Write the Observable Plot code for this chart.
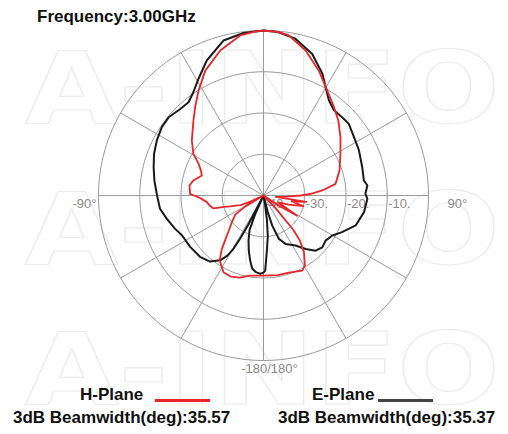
<!DOCTYPE html>
<html><head><meta charset="utf-8">
<script src="https://cdn.jsdelivr.net/npm/d3@7"></script>
<script src="https://cdn.jsdelivr.net/npm/@observablehq/plot@0.6"></script>
<style>
body{margin:0;background:#fff;width:508px;height:434px;position:relative;overflow:hidden;font-family:"Liberation Sans",Arial,sans-serif;}
.t{position:absolute;font-weight:bold;font-size:17px;line-height:17px;color:#111;white-space:nowrap;}
#wm{position:absolute;left:0;top:0;}
#chart{position:absolute;left:0;top:28px;}
.sw{position:absolute;height:3px;}
</style></head><body>
<svg id="wm" width="508" height="434">
  <g fill="none" stroke="#ececec" stroke-width="1.2" font-family="DejaVu Sans" font-weight="bold" font-size="100">
    <text x="25" y="123" textLength="475" lengthAdjust="spacingAndGlyphs">A-INFO</text>
    <text x="25" y="264" textLength="475" lengthAdjust="spacingAndGlyphs">A-INFO</text>
    <text x="25" y="404" textLength="475" lengthAdjust="spacingAndGlyphs">A-INFO</text>
  </g>
</svg>
<div class="t" style="left:37px;top:8px">Frequency:3.00GHz</div>
<div id="chart"></div>
<div class="t" style="left:80px;top:386px">H-Plane</div>
<div class="sw" style="left:155px;top:399px;width:55px;background:#e8262b"></div>
<div class="t" style="left:312px;top:386px">E-Plane</div>
<div class="sw" style="left:378px;top:399px;width:55px;background:#444"></div>
<div class="t" style="left:13px;top:409px">3dB Beamwidth(deg):35.57</div>
<div class="t" style="left:278px;top:409px">3dB Beamwidth(deg):35.37</div>
<script>
// H-Plane (red): angle in degrees (0 = top, clockwise), level in dB
const hAngles = [-180,-170,-164,-158,-152.5,-146,-142,-136,-130,-124,-121,-118,-115,-113,-110,-108,-106,-104.5,-100,-96.7,-92,-88.7,-82.3,-77.9,-72,-68,-64,-59.2,-52.5,-43,-37.7,-31.8,-25,-16.6,-8.3,-3,0,5,9,16.2,23.9,31.2,38.6,44.9,52.9,61.6,71.8,80.8,85.1,88,90,93,96,98.5,102,105,110,115,121,125,130,136,139,141,144.5,149.4,152.7,161.8,170,180];
const hDb = [-20.6,-20.3,-19.3,-18.8,-19,-21,-23.6,-27.7,-30,-31.8,-35,-40,-36.5,-34,-32.8,-31.5,-30,-27.5,-26.6,-26.2,-24.5,-22.2,-21.9,-22.6,-24.3,-23.6,-22.5,-20.2,-18.1,-15.1,-12.9,-10.1,-6.6,-3.3,-0.8,-0.2,0,-0.2,-0.7,-3.4,-6.9,-10.2,-12.6,-14.3,-16.6,-18.8,-20.6,-22.3,-25.7,-28.5,-31,-34.5,-37,-29.5,-33,-30,-33.5,-36,-30.5,-37,-40,-36,-29,-26,-23.1,-20.3,-19.5,-20.3,-20.4,-20.6];
// E-Plane (black)
const eAngles = [-180,-177.6,-174,-171.2,-168.4,-165,-161.6,-158,-156,-154,-152.5,-151.5,-150.5,-149,-146.3,-141,-134,-125,-116,-110.7,-103.6,-97.3,-90,-82.2,-75.6,-69.1,-62.7,-56.1,-50.5,-43.9,-38.8,-34.1,-29.1,-22.8,-14.5,-7,0,5,11.5,19,25.8,29.8,34.5,39.6,45.1,50,57.2,64.7,74,81.5,84.5,89,91.8,99.4,108,115,120.2,126,131.4,136.6,141.8,147.4,155.5,160.4,163.8,165.5,167.5,170,172,174,176.5,178.7,180];
const eDb = [-21.3,-21,-21.4,-22.1,-23.9,-26.2,-28.5,-31,-35,-40,-32,-28,-25,-23,-21.1,-19.4,-18.6,-18.3,-18,-17.1,-15.9,-14.7,-14.2,-13.3,-12.5,-11.6,-10.9,-10.3,-10.2,-10.9,-11,-9.7,-7.6,-4.5,-1.2,-0.3,0,-0.2,-1.2,-3.7,-7.2,-9.7,-12,-13.2,-13.1,-13,-13.9,-14.4,-15.1,-15.4,-14.7,-15.3,-14.8,-15.3,-16.5,-19,-20.7,-21.4,-21,-21.6,-23.5,-25.6,-27.1,-28.8,-32.4,-36,-40,-38,-34,-30,-26.6,-21.8,-21.3];
// grid
const ringDb = [-30,-20,-10,0];
const spokeAngles = [0,30,60,90,120,150,180,210,240,270,300,330];
const ringLabelDb = [-40,-30,-20,-10];
const ringLabels = ["-40.","-30.","-20.","-10."];
const angleLabels = ["-90°","90°","-180/180°"];
const angleLabelDeg = [-90,90,180];

const floorDb = -40;
const rad = d => d * Math.PI / 180;
const toXY = (a, db) => { const r = Math.max(0, db - floorDb); return {x: r * Math.sin(rad(a)), y: r * Math.cos(rad(a))}; };
const hData = hAngles.map((a, i) => toXY(a, hDb[i]));
const eData = eAngles.map((a, i) => toXY(a, eDb[i]));
const ringPts = [];
ringDb.forEach(db => { for (let a = 0; a <= 360; a += 2) ringPts.push({ring: db, ...toXY(a, db)}); });
const spokes = spokeAngles.map(a => { const p = toXY(a, 0); return {x1: 0, y1: 0, x2: p.x, y2: p.y}; });
const ringText = ringLabelDb.map((db, i) => ({...toXY(90, db), label: ringLabels[i]}));
const angText = angleLabelDeg.map((a, i) => ({...toXY(a, 0), label: angleLabels[i]}));

const font = "Liberation Sans";
const chart = Plot.plot({
  width: 508, height: 352,
  marginLeft: 98, marginRight: 80, marginTop: 2, marginBottom: 20,
  x: {domain: [-40, 40], axis: null},
  y: {domain: [-40, 40], axis: null},
  style: {background: "transparent", overflow: "visible"},
  marks: [
    Plot.line(ringPts, {x: "x", y: "y", z: "ring", stroke: "#9a9a9a", strokeWidth: 1}),
    Plot.link(spokes, {x1: "x1", y1: "y1", x2: "x2", y2: "y2", stroke: "#9a9a9a", strokeWidth: 1}),
    Plot.text(ringText, {x: "x", y: "y", text: "label", textAnchor: "start", dx: 1, dy: 8, fontSize: 13, fill: "#8a8a8a", fontFamily: font}),
    Plot.text([angText[0]], {x: "x", y: "y", text: "label", textAnchor: "end", dx: -2, dy: 8, fontSize: 13, fill: "#8a8a8a", fontFamily: font}),
    Plot.text([angText[1]], {x: "x", y: "y", text: "label", textAnchor: "start", dx: 19, dy: 8, fontSize: 13, fill: "#8a8a8a", fontFamily: font}),
    Plot.text([angText[2]], {x: "x", y: "y", text: "label", textAnchor: "middle", dx: 6, dy: 8, fontSize: 13, fill: "#8a8a8a", fontFamily: font}),
    Plot.line(eData, {x: "x", y: "y", stroke: "#1a1a1a", strokeWidth: 2}),
    Plot.line(hData, {x: "x", y: "y", stroke: "#e8262b", strokeWidth: 1.8})
  ]
});
document.getElementById("chart").appendChild(chart);
</script>
</body></html>
